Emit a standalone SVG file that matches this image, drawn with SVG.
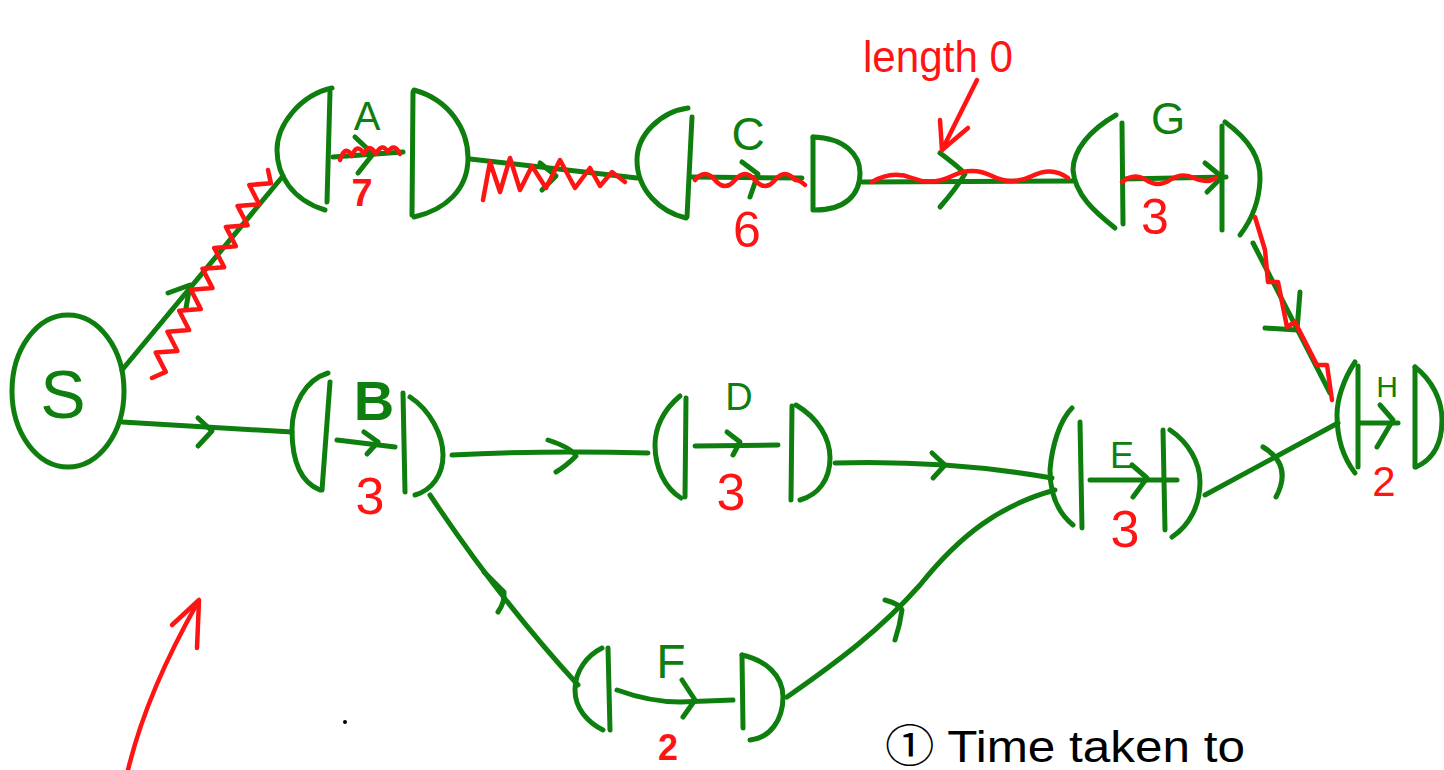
<svg xmlns="http://www.w3.org/2000/svg" width="1444" height="770" viewBox="0 0 1444 770">
<style>
.g{fill:none;stroke:#0e7f0e;stroke-width:5;stroke-linecap:round;stroke-linejoin:round}
.r{fill:none;stroke:#ff1414;stroke-width:4.5;stroke-linecap:round;stroke-linejoin:round}
.lg{fill:#0e7f0e;font-family:"Liberation Sans",sans-serif;text-anchor:middle}
.lr{fill:#ff1414;font-family:"Liberation Sans",sans-serif;text-anchor:middle}
</style>
<rect width="1444" height="770" fill="#fff"/>

<g id="connectors">
  <path class="g" d="M122,370 L283,176"/>
  <path class="g" d="M168,293 L190,285 L186,308"/>
  <path class="g" d="M122,422 L292,432"/>
  <path class="g" d="M198,418 L212,431 L198,446"/>
  <path class="g" d="M470,159 L637,178"/>
  <path class="g" d="M540,163 L556,176 L542,190"/>
  <path class="g" d="M862,182 L1073,181"/>
  <path class="g" d="M940,153 Q960,168 965,174 Q955,190 940,207"/>
  <path class="g" d="M1253,243 L1330,393"/>
  <path class="g" d="M1300,292 L1297,330 L1265,328"/>
  <path class="g" d="M452,455 Q550,450 648,453"/>
  <path class="g" d="M548,440 Q572,448 576,456 Q566,466 556,472"/>
  <path class="g" d="M835,463 Q950,460 1052,478"/>
  <path class="g" d="M932,453 L945,465 L933,478"/>
  <path class="g" d="M430,495 Q500,600 578,685"/>
  <path class="g" d="M484,572 Q500,588 504,592 Q505,602 498,612"/>
  <path class="g" d="M787,697 C840,660 880,630 920,585 C960,535 1000,505 1055,490"/>
  <path class="g" d="M885,600 Q900,604 902,610 Q900,625 895,640"/>
  <path class="g" d="M1205,495 L1338,423"/>
  <path class="g" d="M1263,447 Q1293,465 1276,497"/>
</g>

<g id="S">
  <ellipse class="g" cx="68" cy="391" rx="56" ry="76"/>
  <text class="lg" x="63" y="418" font-size="68">S</text>
</g>

<g id="A">
  <path class="g" d="M332,88 C300,95 277,125 277,150 C277,175 292,200 325,210"/>
  <path class="g" d="M330,92 L327,202"/>
  <path class="g" d="M414,90 C450,100 468,130 468,158 C468,190 445,210 414,217"/>
  <path class="g" d="M413,92 L412,215"/>
  <path class="g" d="M333,157 L403,152"/>
  <path class="g" d="M355,137 L373,154 L358,173"/>
  <text class="lg" x="367" y="130" font-size="40">A</text>
  <text class="lr" x="362" y="206" font-size="38" font-weight="bold">7</text>
</g>

<g id="C">
  <path class="g" d="M688,108 C660,112 637,135 637,160 C637,190 660,212 686,218"/>
  <path class="g" d="M692,117 L687,217"/>
  <path class="g" d="M813,137 C845,138 860,155 860,173 C860,195 845,210 815,210"/>
  <path class="g" d="M813,137 L813,210"/>
  <path class="g" d="M692,177 L802,178"/>
  <path class="g" d="M742,162 L758,174 L750,197"/>
  <text class="lg" x="748" y="150" font-size="46">C</text>
  <text class="lr" x="747" y="247" font-size="50">6</text>
</g>

<g id="G">
  <path class="g" d="M1116,115 C1090,130 1073,150 1073,170 C1075,195 1095,212 1115,228"/>
  <path class="g" d="M1122,123 L1123,224"/>
  <path class="g" d="M1225,122 C1250,140 1261,160 1260,180 C1259,205 1250,222 1240,235"/>
  <path class="g" d="M1222,126 L1222,230"/>
  <path class="g" d="M1123,179 L1226,177"/>
  <path class="g" d="M1205,163 L1222,177 L1207,192"/>
  <text class="lg" x="1168" y="134" font-size="44">G</text>
  <text class="lr" x="1155" y="234" font-size="50">3</text>
</g>

<g id="H">
  <path class="g" d="M1355,362 C1343,380 1337,400 1337,415 C1337,440 1345,460 1355,473"/>
  <path class="g" d="M1358,366 L1358,467"/>
  <path class="g" d="M1415,367 C1432,380 1442,400 1442,420 C1442,445 1432,460 1416,467"/>
  <path class="g" d="M1415,367 L1415,467"/>
  <path class="g" d="M1360,423 L1398,423"/>
  <path class="g" d="M1380,405 L1393,420 L1377,447"/>
  <text class="lg" x="1387" y="397" font-size="30">H</text>
  <text class="lr" x="1384" y="496" font-size="42">2</text>
</g>

<g id="B">
  <path class="g" d="M328,373 C305,380 292,405 292,430 C292,460 300,482 320,490"/>
  <path class="g" d="M330,382 L322,490"/>
  <path class="g" d="M410,397 C430,410 443,435 443,455 C443,475 432,490 415,495"/>
  <path class="g" d="M403,393 L405,492"/>
  <path class="g" d="M337,440 L395,447"/>
  <path class="g" d="M364,432 L378,442 L367,454"/>
  <text class="lg" x="374" y="420" font-size="56" font-weight="bold">B</text>
  <text class="lr" x="370" y="514" font-size="52">3</text>
</g>

<g id="D">
  <path class="g" d="M680,396 C663,410 655,428 655,445 C655,468 665,488 681,498"/>
  <path class="g" d="M686,398 L685,497"/>
  <path class="g" d="M796,405 C818,418 830,438 830,458 C830,480 818,495 800,500"/>
  <path class="g" d="M792,406 L791,500"/>
  <path class="g" d="M695,446 L778,445"/>
  <path class="g" d="M727,432 L740,442 L733,455"/>
  <text class="lg" x="739" y="410" font-size="38">D</text>
  <text class="lr" x="731" y="510" font-size="52">3</text>
</g>

<g id="E">
  <path class="g" d="M1072,408 C1060,420 1052,445 1050,470 C1050,492 1057,512 1073,525"/>
  <path class="g" d="M1080,422 L1082,528"/>
  <path class="g" d="M1170,430 C1188,442 1200,462 1200,482 C1200,505 1190,525 1172,537"/>
  <path class="g" d="M1163,430 L1165,530"/>
  <path class="g" d="M1090,480 L1177,480"/>
  <path class="g" d="M1132,465 L1147,478 L1133,497"/>
  <text class="lg" x="1122" y="468" font-size="36">E</text>
  <text class="lr" x="1125" y="547" font-size="52">3</text>
</g>

<g id="F">
  <path class="g" d="M602,648 C588,655 575,670 575,690 C575,708 587,722 603,730"/>
  <path class="g" d="M608,648 L610,730"/>
  <path class="g" d="M742,655 C765,660 783,675 783,697 C783,720 770,738 750,740"/>
  <path class="g" d="M742,655 L743,728"/>
  <path class="g" d="M617,690 Q650,702 680,702 L733,700"/>
  <path class="g" d="M682,680 L695,700 L683,717"/>
  <text class="lg" x="671" y="678" font-size="48">F</text>
  <text class="lr" x="668" y="760" font-size="36" font-weight="bold">2</text>
</g>

<g id="critical-path">
  <polyline class="r" points="152,378 165.7,371.9 155.8,352.6 177.4,351 167.5,331.7 189.1,330 179.2,310.7 200.8,309.1 190.9,289.8 212.5,288.1 202.5,268.8 224.2,267.2 214.2,247.9 235.9,246.2 225.9,226.9 247.6,225.3 237.6,206 259.2,204.3 249.3,185 270.9,183.3 268,170"/>
  <path class="r" d="M340,160 q5,-16 12,-4 q5,-14 12,-2 q5,-12 12,0 q6,-12 12,-2 q6,-10 12,2"/>
  <path class="r" d="M483,200 L490,162 L500,192 L510,158 L520,190 L532,166 L546,188 L560,160 L575,188 L590,168 L600,186 L612,172 L625,182"/>
  <path class="r" d="M695,180 q10,-12 20,0 t20,0 t20,0 t20,0 t20,0 q5,0 10,5"/>
  <path class="r" d="M872,182 q20,-12 40,-4 t40,-2 t40,0 t40,0 t36,2"/>
  <path class="r" d="M1122,182 q12,-10 24,-2 t24,0 t24,-2 t22,0"/>
  <polyline class="r" points="1255,217 1265,250 1268,282 1278,282 1287,327 1295,322 1317,365 1327,365 1332,400"/>
</g>

<g id="annotations">
  <text class="lr" x="938" y="72" font-size="44" text-anchor="start" textLength="150" lengthAdjust="spacingAndGlyphs">length 0</text>
  <path class="r" d="M977,80 L942,150"/>
  <path class="r" d="M940,120 L942,150 L968,128"/>
  <path class="r" d="M128,770 C140,720 165,660 198,602"/>
  <path class="r" d="M172,625 L199,600 L197,648"/>
  <circle cx="345" cy="722" r="2" fill="#000"/>
  <text x="885" y="762" font-family="'Liberation Sans','Noto Sans CJK SC',sans-serif" font-size="44" fill="#000" textLength="360" lengthAdjust="spacingAndGlyphs">① Time taken to</text>
</g>
</svg>
